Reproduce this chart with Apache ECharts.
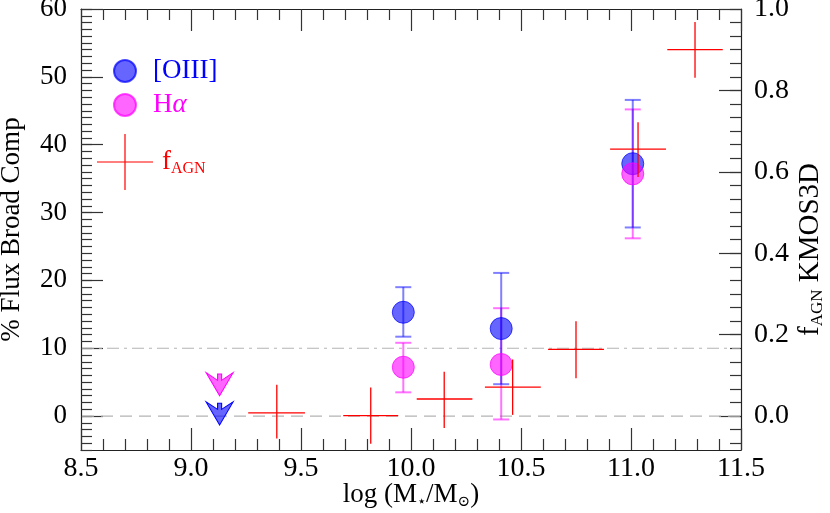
<!DOCTYPE html>
<html>
<head>
<meta charset="utf-8">
<script src="https://cdn.jsdelivr.net/npm/echarts@6/dist/echarts.min.js"></script>
<style>html,body{margin:0;padding:0;background:#fff;}#c{width:830px;height:513px;}</style>
</head>
<body>
<div id="c"></div>
<script>
// ---- data ----
const xTicks = [8.5, 9.0, 9.5, 10.0, 10.5, 11.0, 11.5];
const leftTicks = [0, 10, 20, 30, 40, 50, 60];
const rightTicks = [0.0, 0.2, 0.4, 0.6, 0.8, 1.0];
const refLevels = [0, 10];

const oiiiX  = [9.965, 10.41, 11.008];
const oiiiY  = [15.3, 12.9, 37.2];
const oiiiLo = [11.7, 4.7, 27.8];
const oiiiHi = [19.0, 21.1, 46.6];

const haX  = [9.965, 10.41, 11.008];
const haY  = [7.2, 7.6, 35.7];
const haLo = [3.5, -0.5, 26.2];
const haHi = [10.8, 15.9, 45.2];

const limX = [9.13];
const oiiiLimY = [0.4];
const haLimY = [4.7];

const agnX   = [9.39, 9.817, 10.151, 10.462, 10.75, 11.032, 11.291];
const agnXLo = [9.26, 9.692, 10.026, 10.336, 10.623, 10.905, 11.165];
const agnXHi = [9.518, 9.942, 10.279, 10.59, 10.877, 11.159, 11.417];
const agnY   = [0.008, 0.001, 0.042, 0.071, 0.164, 0.656, 0.900];
const agnYLo = [-0.055, -0.068, -0.029, 0.003, 0.093, 0.587, 0.831];
const agnYHi = [0.077, 0.070, 0.109, 0.139, 0.233, 0.722, 0.968];

// ---- build ----
const FONT = 'Liberation Serif';
const yMin = -5, yMax = 60;
const rMin = yMin / 60, rMax = 1.0;
const leftMinor = []; for (let v = -5; v <= 60; v++) leftMinor.push(v);
const rightMinor = []; for (let k = -2; k <= 30; k++) rightMinor.push(k / 30);

const TICK = '#333';
const BLUE_F = 'rgba(0,0,255,0.6)', PINK_F = 'rgba(255,0,255,0.6)';
const BLUE_E = 'rgba(0,0,255,0.5)', PINK_E = 'rgba(255,0,255,0.55)';
const refDash = [[12, 7], [12, 5, 3, 5]];

function errRender(color) {
  return function (params, api) {
    const x = api.value(0), lo = api.value(1), hi = api.value(2);
    const a = api.coord([x, lo]), b = api.coord([x, hi]);
    const w = 8;
    const st = {stroke: color, lineWidth: 2};
    return {type: 'group', children: [
      {type: 'line', shape: {x1: a[0], y1: a[1], x2: b[0], y2: b[1]}, style: st},
      {type: 'line', shape: {x1: a[0] - w, y1: a[1], x2: a[0] + w, y2: a[1]}, style: st},
      {type: 'line', shape: {x1: b[0] - w, y1: b[1], x2: b[0] + w, y2: b[1]}, style: st}
    ]};
  };
}
function crossRender(params, api) {
  const x = api.value(0), y = api.value(1);
  const l = api.coord([api.value(2), y]), r = api.coord([api.value(3), y]);
  const d = api.coord([x, api.value(4)]), u = api.coord([x, api.value(5)]);
  const st = {stroke: '#ff0000', lineWidth: 1.3};
  return {type: 'group', children: [
    {type: 'line', shape: {x1: l[0], y1: l[1], x2: r[0], y2: r[1]}, style: st},
    {type: 'line', shape: {x1: d[0], y1: d[1], x2: u[0], y2: u[1]}, style: st}
  ]};
}
function refRender(params, api) {
  const y = api.value(0);
  const a = api.coord([8.5, y]), b = api.coord([11.5, y]);
  return {type: 'line', shape: {x1: a[0] + 1, y1: a[1], x2: b[0] - 1, y2: b[1]},
    style: {stroke: '#b4b4b4', lineWidth: 1.2, lineDash: refDash[params.dataIndex]}};
}
const arrowPath = 'path://M34 4 L46 4 L46 22 L80 0 L40 67 L0 0 L34 22 Z';

const subStyle = {fontSize: 16, lineHeight: 10, verticalAlign: 'bottom', fontFamily: FONT};

const chart = echarts.init(document.getElementById('c'), null, {renderer: 'canvas'});
chart.setOption({
  animation: false,
  backgroundColor: '#fff',
  textStyle: {fontFamily: FONT},
  grid: {left: 81, right: 89, top: 9, bottom: 63, containLabel: false, outerBoundsMode: 'none'},
  legend: [
    {
      orient: 'vertical', left: 113, top: 56, padding: 0,
      itemWidth: 22, itemHeight: 22, itemGap: 4,
      data: [
        {name: '[OIII]', icon: 'circle', textStyle: {color: '#0000ff'}},
        {name: 'Hα', icon: 'circle', textStyle: {color: '#ff00ff'}}
      ],
      formatter: function (n) { return n === 'Hα' ? 'H{it|α}' : n; },
      textStyle: {fontFamily: FONT, fontSize: 27, lineHeight: 30, padding: [0, 0, 0, 12],
        rich: {it: {fontStyle: 'italic', fontSize: 27, fontFamily: FONT, color: '#ff00ff'}}}
    },
    {
      orient: 'vertical', left: 97, top: 134, padding: 0,
      itemWidth: 56, itemHeight: 56,
      data: [{name: 'fAGN', icon: 'path://M0,27.4 H56 V28.6 H0 Z M27.4,0 H28.6 V56 H27.4 Z', textStyle: {color: '#ff0000'}}],
      formatter: function () { return 'f{sub|AGN}'; },
      textStyle: {fontFamily: FONT, fontSize: 27, lineHeight: 30, padding: [0, 0, 0, 4],
        rich: {sub: Object.assign({color: '#ff0000'}, subStyle)}}
    }
  ],
  xAxis: [
    {
      type: 'value', position: 'bottom', min: 8.5, max: 11.5, interval: 0.5,
      axisLine: {show: true, onZero: false, lineStyle: {color: '#222', width: 1.2}},
      axisTick: {show: true, inside: true, length: 22, lineStyle: {color: TICK, width: 1.2}},
      minorTick: {show: true, splitNumber: 5, length: 11, lineStyle: {color: TICK, width: 1.2}},
      splitLine: {show: false}, minorSplitLine: {show: false},
      axisLabel: {fontSize: 28, color: '#000', margin: 5, fontFamily: FONT,
        formatter: v => v.toFixed(1)},
      name: 'log (M{s|⋆}/M{s|⊙})', nameLocation: 'middle', nameGap: 30, nameMoveOverlap: false,
      nameTextStyle: {fontSize: 27, color: '#000', fontFamily: FONT, lineHeight: 30,
        rich: {s: {fontSize: 15, lineHeight: 10, verticalAlign: 'bottom', fontFamily: 'DejaVu Serif'}}}
    },
    {
      type: 'value', position: 'top', min: 8.5, max: 11.5, interval: 0.5,
      axisLine: {show: true, onZero: false, lineStyle: {color: '#222', width: 1.2}},
      axisTick: {show: true, inside: true, length: 22, lineStyle: {color: TICK, width: 1.2}},
      minorTick: {show: true, splitNumber: 5, length: 11, lineStyle: {color: TICK, width: 1.2}},
      splitLine: {show: false}, axisLabel: {show: false}
    }
  ],
  yAxis: [
    {
      type: 'value', position: 'left', min: yMin, max: yMax,
      axisLine: {show: true, onZero: false, lineStyle: {color: '#222', width: 1.2}},
      axisTick: {show: true, inside: true, length: 22, customValues: leftTicks, lineStyle: {color: TICK, width: 1.2}},
      splitLine: {show: false},
      axisLabel: {fontSize: 27, color: '#000', margin: 14, fontFamily: FONT, customValues: leftTicks,
        formatter: v => String(Math.round(v))},
      name: '% Flux Broad Comp', nameLocation: 'middle', nameGap: 56, nameMoveOverlap: false,
      nameTextStyle: {fontSize: 27, color: '#000', fontFamily: FONT}
    },
    {
      type: 'value', position: 'left', min: yMin, max: yMax,
      axisLine: {show: false, onZero: false},
      axisTick: {show: true, inside: true, length: 11, customValues: leftMinor, lineStyle: {color: TICK, width: 1.2}},
      splitLine: {show: false}, axisLabel: {show: false}
    },
    {
      type: 'value', position: 'right', min: rMin, max: rMax,
      axisLine: {show: true, onZero: false, lineStyle: {color: '#222', width: 1.2}},
      axisTick: {show: true, inside: true, length: 22, customValues: rightTicks, lineStyle: {color: TICK, width: 1.2}},
      splitLine: {show: false},
      axisLabel: {fontSize: 28, color: '#000', margin: 13, fontFamily: FONT, customValues: rightTicks,
        formatter: v => v.toFixed(1)},
      name: 'f{sub|AGN} KMOS3D', nameLocation: 'middle', nameGap: 53, nameMoveOverlap: false,
      nameTextStyle: {fontSize: 29, color: '#000', fontFamily: FONT, lineHeight: 32, padding: [0, 40, 0, 0],
        rich: {sub: {fontSize: 17, lineHeight: 10, verticalAlign: 'bottom', fontFamily: FONT}}}
    },
    {
      type: 'value', position: 'right', min: rMin, max: rMax,
      axisLine: {show: false, onZero: false},
      axisTick: {show: true, inside: true, length: 11, customValues: rightMinor, lineStyle: {color: TICK, width: 1.2}},
      splitLine: {show: false}, axisLabel: {show: false}
    }
  ],
  series: [
    {
      type: 'custom', name: 'ref', xAxisIndex: 0, yAxisIndex: 0, silent: true, z: 1,
      renderItem: refRender, encode: {y: 0},
      data: refLevels.map(v => [v])
    },
    {
      type: 'custom', name: 'Hα err', xAxisIndex: 0, yAxisIndex: 0,
      renderItem: errRender(PINK_E), encode: {x: 0, y: [1, 2]},
      data: haX.map((x, i) => [x, haLo[i], haHi[i]])
    },
    {
      type: 'custom', name: '[OIII] err', xAxisIndex: 0, yAxisIndex: 0,
      renderItem: errRender(BLUE_E), encode: {x: 0, y: [1, 2]},
      data: oiiiX.map((x, i) => [x, oiiiLo[i], oiiiHi[i]])
    },
    {
      type: 'scatter', name: '[OIII]', xAxisIndex: 0, yAxisIndex: 0,
      symbol: 'circle', symbolSize: 22,
      itemStyle: {color: BLUE_F, borderColor: 'rgba(0,0,255,0.7)', borderWidth: 1, opacity: 1},
      data: oiiiX.map((x, i) => [x, oiiiY[i]])
    },
    {
      type: 'scatter', name: 'Hα', xAxisIndex: 0, yAxisIndex: 0,
      symbol: 'circle', symbolSize: 22,
      itemStyle: {color: PINK_F, borderColor: 'rgba(255,0,255,0.7)', borderWidth: 1, opacity: 1},
      data: haX.map((x, i) => [x, haY[i]])
    },
    {
      type: 'scatter', name: '[OIII] limit', xAxisIndex: 0, yAxisIndex: 0,
      symbol: arrowPath, symbolSize: [27, 23],
      itemStyle: {color: BLUE_F, borderColor: '#0000ff', borderWidth: 1, opacity: 1},
      data: limX.map((x, i) => [x, oiiiLimY[i]])
    },
    {
      type: 'scatter', name: 'Hα limit', xAxisIndex: 0, yAxisIndex: 0,
      symbol: arrowPath, symbolSize: [27, 23],
      itemStyle: {color: PINK_F, borderColor: '#ff00ff', borderWidth: 1, opacity: 1},
      data: limX.map((x, i) => [x, haLimY[i]])
    },
    {
      type: 'custom', name: 'fAGN', xAxisIndex: 0, yAxisIndex: 2, z: 5,
      itemStyle: {color: '#ff0000'},
      renderItem: crossRender, encode: {x: [0, 2, 3], y: [1, 4, 5]},
      data: agnX.map((x, i) => [x, agnY[i], agnXLo[i], agnXHi[i], agnYLo[i], agnYHi[i]])
    }
  ]
});
</script>
</body>
</html>
